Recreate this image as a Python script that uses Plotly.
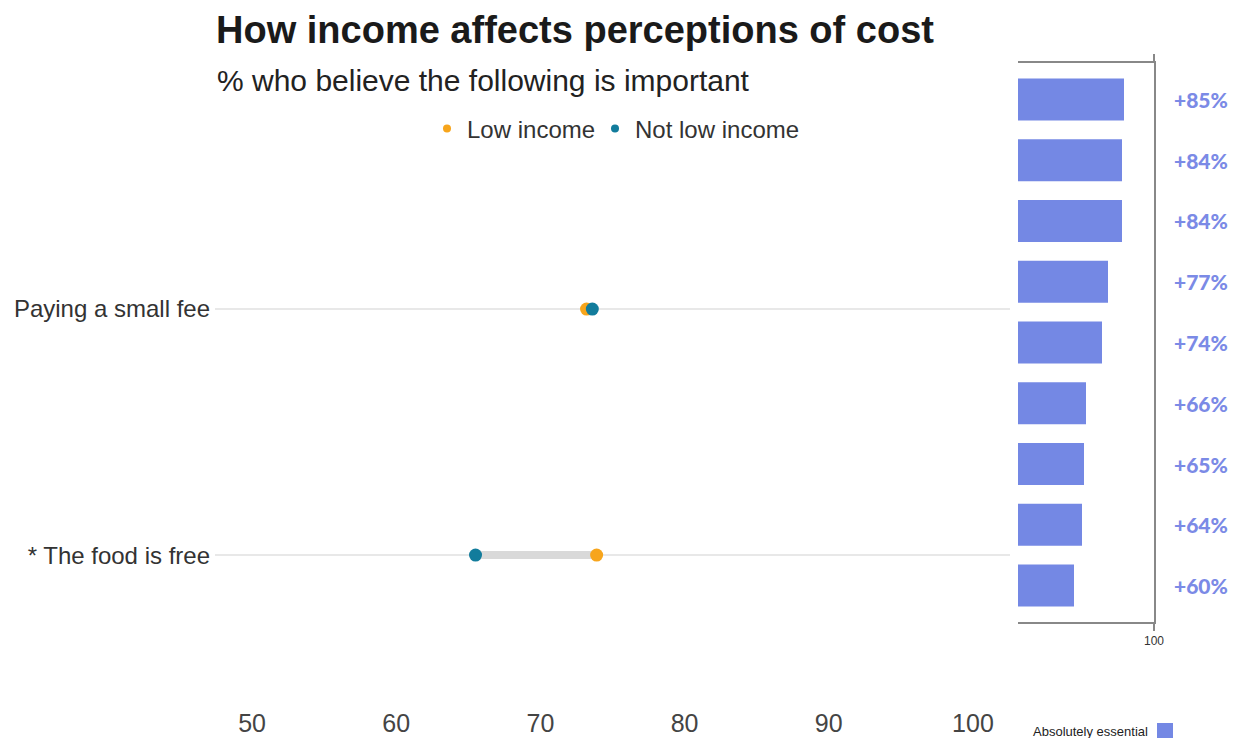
import plotly.graph_objects as go

# Dumbbell panel: share rating each item as important, by income group
items = ["Paying a small fee", "* The food is free"]
low_income = [73.2, 73.9]
not_low_income = [73.6, 65.5]

# Side panel: share calling each item "absolutely essential"
essential_pct = [85, 84, 84, 77, 74, 66, 65, 64, 60]
essential_rank = list(range(len(essential_pct)))
essential_labels = [f"+{v}%" for v in essential_pct]

x_ticks = [50, 60, 70, 80, 90, 100]

ORANGE = "#F7A51C"
TEAL = "#127C9C"
BLUE = "#7488E4"
FONT = "Liberation Sans"
W, H = 1235, 738

fig = go.Figure()

# connectors between the two group values
for name, a, b in zip(items, low_income, not_low_income):
    fig.add_trace(go.Scatter(
        x=[a, b], y=[name, name], mode="lines",
        line=dict(color="#D9D9D9", width=8),
        showlegend=False, hoverinfo="skip",
    ))

fig.add_trace(go.Scatter(
    x=low_income, y=items, mode="markers", name="Low income",
    marker=dict(color=ORANGE, size=13), showlegend=False,
))
fig.add_trace(go.Scatter(
    x=not_low_income, y=items, mode="markers", name="Not low income",
    marker=dict(color=TEAL, size=13), showlegend=False,
))
# small legend keys, one legend box each so they can be spaced freely
fig.add_trace(go.Scatter(x=[None], y=[None], mode="markers", name="Low income",
                         marker=dict(color=ORANGE, size=8), legend="legend"))
fig.add_trace(go.Scatter(x=[None], y=[None], mode="markers", name="Not low income",
                         marker=dict(color=TEAL, size=8), legend="legend2"))

fig.add_trace(go.Bar(
    x=essential_pct, y=essential_rank, orientation="h",
    xaxis="x2", yaxis="y2", width=0.69,
    marker=dict(color=BLUE, line=dict(width=0)),
    showlegend=False, name="Absolutely essential",
))

annotations = [
    dict(text="% who believe the following is important", x=215 / W, y=1 - 80 / H,
         xref="paper", yref="paper", xanchor="left", yanchor="middle", showarrow=False,
         font=dict(family=FONT, size=30, color="#222222")),
    dict(text="Absolutely essential", x=1150 / W, y=1 - 731 / H,
         xref="paper", yref="paper", xanchor="right", yanchor="middle", showarrow=False,
         font=dict(family=FONT, size=13, color="#222222")),
]
for rank, label in zip(essential_rank, essential_labels):
    annotations.append(dict(
        text=label, x=1201 / W, y=rank, xref="paper", yref="y2",
        xanchor="center", yanchor="middle", showarrow=False,
        font=dict(family="Lato", size=21, weight=900, color="#7B8AE6"),
    ))

legend_style = dict(orientation="h", yanchor="middle", xanchor="left", y=1 - 129 / H,
                    font=dict(family=FONT, size=24, color="#333333"),
                    itemwidth=30, bgcolor="rgba(0,0,0,0)")

fig.update_layout(
    width=W, height=H,
    margin=dict(l=0, r=0, t=0, b=0, autoexpand=False),
    paper_bgcolor="white", plot_bgcolor="white",
    title=dict(text="<b>How income affects perceptions of cost</b>",
               x=216 / W, xanchor="left", y=1 - 30 / H, yanchor="middle",
               font=dict(family=FONT, size=38, color="#1A1A1A")),
    showlegend=True,
    legend=dict(x=427 / W, **legend_style),
    legend2=dict(x=595 / W, **legend_style),
    xaxis=dict(domain=[215 / W, 1010 / W], range=[47.43, 102.57], automargin=False,
               tickvals=x_ticks, showgrid=False, zeroline=False, showline=False,
               tickfont=dict(family=FONT, size=25, color="#444444"), ticks="",
               ticklabelstandoff=6),
    yaxis=dict(domain=[1 - 700 / H, 1 - 160 / H], type="category", automargin=False,
               categoryorder="array", categoryarray=items,
               range=[1.589, -0.606], showgrid=True, gridcolor="#E8E8E8", gridwidth=2,
               zeroline=False, showline=False, ticks="", ticklabelstandoff=4,
               tickfont=dict(family=FONT, size=24, color="#333333")),
    xaxis2=dict(domain=[1018 / W, 1154 / W], range=[32, 100], anchor="y2", automargin=False,
                tickvals=[100], ticks="outside", ticklen=7, tickcolor="#888888", tickwidth=2,
                showline=True, linecolor="#888888", linewidth=2, mirror="ticks",
                showgrid=False, zeroline=False,
                tickfont=dict(family=FONT, size=12, color="#333333")),
    yaxis2=dict(domain=[1 - 622 / H, 1 - 63 / H], range=[8.6, -0.6], anchor="x2",
                automargin=False,
                side="right", showline=True, linecolor="#888888", linewidth=2,
                showticklabels=False, showgrid=False, zeroline=False, ticks=""),
    annotations=annotations,
    shapes=[dict(type="rect", xref="paper", yref="paper",
                 x0=1157 / W, x1=1173 / W, y0=1 - 738 / H, y1=1 - 723 / H,
                 fillcolor=BLUE, line=dict(width=0))],
)

fig.write_html("out.html")
